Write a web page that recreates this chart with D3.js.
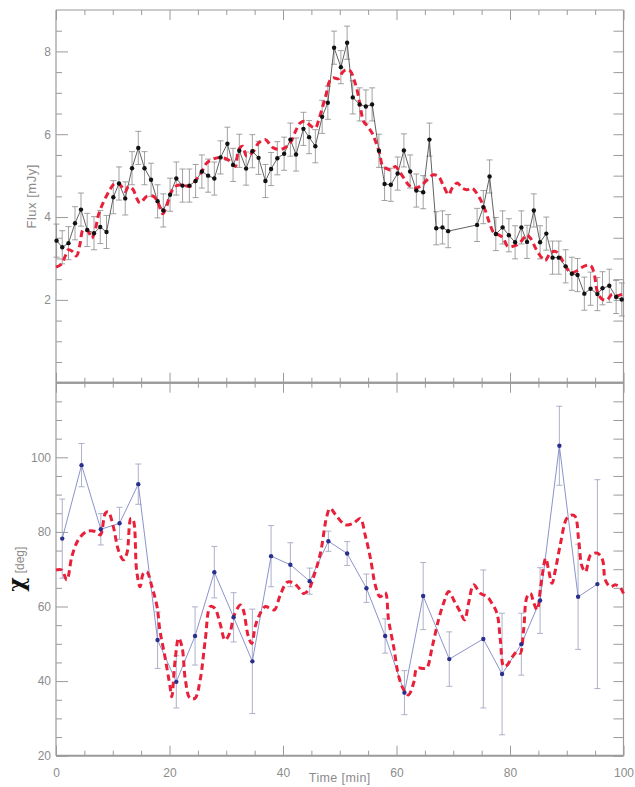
<!DOCTYPE html>
<html>
<head>
<meta charset="utf-8">
<script src="https://cdn.jsdelivr.net/npm/d3@7"></script>
<style>
  html, body { margin: 0; padding: 0; background: #fff; }
  svg { display: block; font-family: "Liberation Sans", "DejaVu Sans", sans-serif; }
</style>
</head>
<body>
<svg id="chart" width="635" height="787"></svg>
<script>
// ---- Flux light curve (upper panel) ----
const fluxTime = [0.1, 1.1, 2.2, 3.35, 4.4, 5.5, 6.7, 7.8, 8.9, 10.1,
  11.1, 12.2, 13.4, 14.5, 15.6, 16.75, 17.9, 18.9, 20.1, 21.2,
  22.3, 23.5, 24.6, 25.7, 26.8, 27.9, 29.0, 30.2, 31.2, 32.3,
  33.5, 34.6, 35.7, 36.9, 37.9, 39.0, 40.2, 41.3, 42.3, 43.6,
  44.6, 45.7, 46.9, 47.9, 49.0, 50.2, 51.3, 52.3, 53.5, 54.6,
  55.7, 56.9, 57.9, 59.0, 60.2, 61.3, 62.4, 63.5, 64.7, 65.8,
  67.0, 68.1, 69.1, 74.2, 75.3, 76.4, 77.5, 78.7, 79.8, 80.9,
  82.0, 83.0, 84.2, 85.3, 86.4, 87.5, 88.6, 89.8, 90.9, 91.9,
  93.1, 94.2, 95.4, 96.3, 97.5, 98.7, 99.7];
const fluxValue = [3.43, 3.27, 3.37, 3.85, 4.18, 3.69, 3.61, 3.76, 3.64, 4.48,
  4.81, 4.45, 5.18, 5.67, 5.18, 4.90, 4.38, 4.16, 4.54, 4.93,
  4.76, 4.76, 4.87, 5.10, 5.00, 4.93, 5.44, 5.77, 5.26, 5.60,
  5.17, 5.59, 5.43, 4.87, 5.16, 5.42, 5.53, 5.87, 5.51, 6.13,
  5.93, 5.71, 6.42, 6.76, 8.09, 7.62, 8.21, 6.89, 6.72, 6.67,
  6.72, 5.60, 4.80, 4.78, 5.05, 5.61, 5.10, 4.64, 4.60, 5.87,
  3.73, 3.75, 3.66, 3.81, 4.24, 4.98, 3.59, 3.75, 3.56, 3.39,
  3.75, 3.40, 4.16, 3.39, 3.60, 3.02, 3.02, 2.81, 2.63, 2.60,
  2.15, 2.27, 2.14, 2.28, 2.34, 2.07, 2.01];
const fluxError = [0.4, 0.4, 0.4, 0.4, 0.4, 0.4, 0.4, 0.4, 0.4, 0.4,
  0.4, 0.4, 0.4, 0.4, 0.4, 0.4, 0.4, 0.4, 0.4, 0.4,
  0.4, 0.4, 0.4, 0.4, 0.4, 0.4, 0.4, 0.4, 0.4, 0.4,
  0.4, 0.4, 0.4, 0.4, 0.4, 0.4, 0.4, 0.4, 0.4, 0.4,
  0.4, 0.4, 0.4, 0.4, 0.4, 0.4, 0.4, 0.4, 0.4, 0.4,
  0.4, 0.4, 0.4, 0.4, 0.4, 0.4, 0.4, 0.4, 0.4, 0.4,
  0.4, 0.4, 0.4, 0.4, 0.4, 0.4, 0.4, 0.4, 0.4, 0.4,
  0.4, 0.4, 0.4, 0.4, 0.4, 0.4, 0.4, 0.4, 0.4, 0.4,
  0.4, 0.4, 0.4, 0.4, 0.4, 0.4, 0.4];

// model flux curve
const modelFluxTime = [0, 1, 1.6, 2.2, 2.9, 3.6, 4.2, 4.8, 5.7, 6.3,
  6.9, 7.5, 8.3, 9.5, 10.4, 11.3, 12.2, 12.8, 13.6, 14.2,
  14.8, 16, 17.2, 18, 18.8, 19.5, 20.1, 21, 22.2, 23.6,
  24.8, 25.7, 26.6, 27.7, 28.9, 30.1, 31, 31.6, 32.2, 32.9,
  33.6, 34.8, 35.7, 36.9, 37.7, 38.3, 39.5, 40.4, 41.3, 42.2,
  43, 43.9, 44.8, 45.7, 46.3, 47, 47.6, 48.2, 48.8, 49.8,
  50.4, 51.1, 51.9, 52.5, 53.1, 53.7, 54.2, 54.9, 55.7, 56.3,
  57, 57.6, 58.3, 59, 59.8, 60.5, 61.3, 62.1, 62.9, 64.2,
  65.4, 66.5, 67.4, 68.2, 69.2, 69.8, 70.7, 71.6, 72.4, 73.3,
  73.9, 74.8, 75.7, 76.4, 77.2, 78, 78.8, 79.6, 80.4, 81.3,
  82.2, 82.9, 83.6, 84.5, 85.4, 86.2, 87.1, 88, 88.9, 89.8,
  90.7, 91.8, 93, 94.2, 94.8, 95.4, 96.2, 97.1, 98, 98.9, 100];
const modelFluxValue = [2.79, 2.87, 3.05, 3.21, 3.17, 3.06, 3.33, 3.69, 3.65, 3.49,
  3.69, 4.06, 4.34, 4.66, 4.82, 4.78, 4.62, 4.74, 4.66, 4.46,
  4.34, 4.50, 4.50, 4.34, 4.08, 4.26, 4.54, 4.74, 4.78, 4.74,
  4.92, 5.10, 5.31, 5.40, 5.44, 5.40, 5.31, 5.22, 5.63, 5.71,
  5.47, 5.59, 5.79, 5.87, 5.75, 5.67, 5.63, 5.68, 5.79, 6.07,
  6.27, 6.31, 6.21, 6.15, 6.35, 6.67, 6.96, 7.28, 7.36, 7.34,
  7.48, 7.56, 7.52, 7.32, 7.04, 6.60, 6.31, 6.19, 6.03, 5.83,
  5.55, 5.22, 5.17, 5.14, 5.22, 5.10, 4.94, 4.78, 4.70, 4.74,
  4.90, 5.02, 4.98, 4.78, 4.54, 4.70, 4.82, 4.70, 4.66, 4.70,
  4.62, 4.42, 4.14, 3.85, 3.61, 3.57, 3.49, 3.29, 3.29, 3.33,
  3.45, 3.57, 3.49, 3.25, 3.05, 2.95, 3.13, 3.17, 3.03, 2.81,
  2.66, 2.70, 2.81, 2.83, 2.65, 2.20, 2.02, 2.00, 2.14, 2.10, 2.16];

// ---- Polarisation angle (lower panel) ----
const chiTime = [1.1, 4.5, 7.9, 11.2, 14.5, 17.9, 21.2, 24.5, 27.9, 31.3,
  34.6, 37.9, 41.3, 44.7, 48.0, 51.3, 54.7, 58.0, 61.4, 64.7,
  69.3, 75.3, 78.6, 82.0, 85.3, 88.7, 92.0, 95.4];
const chiValue = [78.2, 97.9, 80.7, 82.3, 92.8, 51.0, 39.8, 52.1, 69.2, 57.1,
  45.3, 73.5, 71.2, 66.8, 77.5, 74.2, 64.9, 52.1, 36.9, 62.8,
  45.9, 51.3, 41.9, 49.9, 61.6, 103.1, 62.6, 66.0];
const chiError = [10.6, 5.8, 4.2, 4.3, 5.4, 7.6, 7.0, 7.8, 6.9, 6.6,
  14.0, 8.2, 5.9, 3.5, 2.7, 3.2, 3.8, 4.6, 5.9, 9.0,
  7.3, 18.5, 16.3, 8.3, 8.8, 10.6, 14.1, 28.0];

// model angle curve
const modelChiTime = [0, 1, 1.9, 2.8, 3.9, 5.4, 6.9, 7.8, 8.7, 9.2,
  10.1, 11, 11.9, 12.5, 13.2, 13.6, 14.2, 14.8, 15.4, 16,
  16.9, 17.8, 18.3, 19.2, 20.1, 20.4, 21, 21.6, 22.2, 22.8,
  23.6, 24.5, 25.4, 26.3, 27.2, 28, 28.9, 29.8, 30.7, 31.3,
  32.5, 33, 33.9, 34.5, 35.1, 36, 36.9, 37.7, 38.5, 39.5,
  40.7, 41.6, 42.6, 43.6, 44.5, 45.4, 46.6, 47.7, 48.3, 49.5,
  51, 52.4, 53.6, 54.5, 55.4, 56.3, 57.1, 58, 58.6, 59.5,
  60.4, 61.3, 62.1, 63, 63.6, 64.7, 65.3, 66.3, 67.4, 68.3,
  69.2, 70.1, 71.2, 72, 72.7, 73.6, 74.8, 76, 76.8, 77.7,
  78.3, 78.9, 79.5, 80.4, 81.3, 81.8, 82.4, 83, 83.6, 84.2,
  84.8, 85.4, 86.3, 86.8, 87.4, 88, 88.9, 90, 90.9, 91.5,
  92.1, 92.7, 93.3, 94.2, 95.4, 96.3, 96.8, 97.7, 98.6, 99.5, 100];
const modelChiValue = [69.8, 69.8, 67.1, 73.4, 77.8, 80.1, 80.1, 79.2, 85.0, 85.4,
  81.4, 75.1, 72.5, 74.3, 83.6, 83.2, 69.8, 65.3, 68.9, 69.3,
  65.3, 60.0, 53.7, 46.5, 38.5, 35.8, 45.7, 51.5, 49.2, 40.3,
  35.4, 35.4, 40.3, 51.0, 60.0, 59.5, 55.5, 51.0, 53.2, 57.3,
  60.4, 59.1, 51.9, 50.1, 54.6, 58.2, 60.0, 59.5, 59.1, 63.0,
  66.5, 66.5, 65.3, 63.5, 64.4, 68.0, 74.3, 84.1, 86.3, 84.1,
  81.9, 82.3, 83.6, 79.0, 73.0, 65.5, 62.6, 63.7, 56.4, 49.2,
  41.2, 37.6, 36.3, 39.4, 43.4, 43.4, 43.4, 49.2, 56.4, 60.9,
  64.0, 61.7, 58.6, 56.4, 60.9, 65.8, 63.5, 62.6, 60.9, 58.2,
  51.0, 43.9, 44.3, 46.5, 47.9, 47.5, 53.7, 62.6, 63.5, 60.9,
  59.1, 65.3, 72.9, 69.8, 66.2, 69.8, 76.9, 83.6, 84.5, 84.1,
  77.8, 70.7, 69.3, 73.8, 74.3, 72.5, 67.1, 65.3, 65.8, 64.9, 63.5];

// axis ticks
const timeMajor = [0, 20, 40, 60, 80, 100];
const timeMinor = [5, 10, 15, 25, 30, 35, 45, 50, 55, 65, 70, 75, 85, 90, 95];
const fluxMajor = [2, 4, 6, 8];
const fluxMinor = [0.5, 1, 1.5, 2.5, 3, 3.5, 4.5, 5, 5.5, 6.5, 7, 7.5, 8.5];
const chiMajor = [20, 40, 60, 80, 100];
const chiMinor = [25, 30, 35, 45, 50, 55, 65, 70, 75, 85, 90, 95, 105, 110, 115];

// ---- layout ----
const L = 56, R = 623.5, T = 10, MID = 382.7, B = 755.7;
const axisGrey = "#9a9a9a";
const labelGrey = "#8c8c8c";
const redModel = "#e8203a";

const svg = d3.select("#chart");
const x = d3.scaleLinear().domain([0, 100]).range([L, R]);
const yFlux = d3.scaleLinear().domain([0, 9]).range([MID, T]);
const yChi = d3.scaleLinear().domain([20, 120]).range([B, MID]);

function styleAxis(g) {
  g.select(".domain").remove();
  g.selectAll(".tick line").attr("stroke", axisGrey).attr("stroke-width", 1);
  g.selectAll(".tick text").attr("fill", labelGrey).attr("font-size", 12);
}

function drawFrame(yScale, y0, y1, yMajor, yMinor, showX) {
  const g = svg.append("g");
  // left axis
  g.append("g").attr("transform", `translate(${L},0)`)
    .call(d3.axisLeft(yScale).tickValues(yMajor).tickSize(-12).tickPadding(5).tickFormat(d3.format("d")))
    .call(styleAxis);
  g.append("g").attr("transform", `translate(${L},0)`)
    .call(d3.axisLeft(yScale).tickValues(yMinor).tickSize(-6).tickFormat(""))
    .call(styleAxis);
  // right axis
  g.append("g").attr("transform", `translate(${R},0)`)
    .call(d3.axisRight(yScale).tickValues(yMajor.concat(yMinor)).tickSize(-10).tickFormat(""))
    .call(styleAxis);
  // upper edge
  g.append("g").attr("transform", `translate(0,${y0})`)
    .call(d3.axisTop(x).tickValues(timeMajor).tickSize(-10).tickFormat(""))
    .call(styleAxis);
  g.append("g").attr("transform", `translate(0,${y0})`)
    .call(d3.axisTop(x).tickValues(timeMinor).tickSize(-5).tickFormat(""))
    .call(styleAxis);
  // lower edge
  g.append("g").attr("transform", `translate(0,${y1})`)
    .call(d3.axisBottom(x).tickValues(timeMajor).tickSize(-10).tickPadding(13)
      .tickFormat(showX ? d3.format("d") : ""))
    .call(styleAxis);
  g.append("g").attr("transform", `translate(0,${y1})`)
    .call(d3.axisBottom(x).tickValues(timeMinor).tickSize(-5).tickFormat(""))
    .call(styleAxis);
  // border lines
  g.append("line").attr("x1", L).attr("x2", L).attr("y1", y0).attr("y2", y1)
    .attr("stroke", axisGrey).attr("stroke-width", 1.2);
  g.append("line").attr("x1", R).attr("x2", R).attr("y1", y0).attr("y2", y1)
    .attr("stroke", axisGrey).attr("stroke-width", 1.2);
  g.append("line").attr("x1", L).attr("x2", R).attr("y1", y0).attr("y2", y0)
    .attr("stroke", axisGrey).attr("stroke-width", y0 === T ? 1.2 : 2);
  g.append("line").attr("x1", L).attr("x2", R).attr("y1", y1).attr("y2", y1)
    .attr("stroke", axisGrey).attr("stroke-width", 2);
}

drawFrame(yFlux, T, MID, fluxMajor, fluxMinor, false);
drawFrame(yChi, MID, B, chiMajor, chiMinor, true);

const capW = 3;

// ---- upper panel: flux ----
const fluxData = fluxTime.map((t, i) => ({ t, v: fluxValue[i], e: fluxError[i] }));
const upperG = svg.append("g");
const fluxBars = upperG.append("g").attr("stroke", "#8a8a8a").attr("stroke-width", 0.8);
fluxData.forEach(d => {
  const xx = x(d.t), ya = yFlux(d.v - d.e), yb = yFlux(d.v + d.e);
  fluxBars.append("line").attr("x1", xx).attr("x2", xx).attr("y1", ya).attr("y2", yb);
  fluxBars.append("line").attr("x1", xx - capW).attr("x2", xx + capW).attr("y1", ya).attr("y2", ya);
  fluxBars.append("line").attr("x1", xx - capW).attr("x2", xx + capW).attr("y1", yb).attr("y2", yb);
});
upperG.append("path").datum(fluxData)
  .attr("fill", "none").attr("stroke", "#3a3a3a").attr("stroke-width", 0.8)
  .attr("d", d3.line().x(d => x(d.t)).y(d => yFlux(d.v)));
upperG.append("path").datum(modelFluxTime.map((t, i) => ({ t, v: modelFluxValue[i] })))
  .attr("fill", "none").attr("stroke", redModel).attr("stroke-width", 3)
  .attr("stroke-dasharray", "6.5,4")
  .attr("d", d3.line().curve(d3.curveCatmullRom).x(d => x(d.t)).y(d => yFlux(d.v)));
upperG.selectAll("circle").data(fluxData).join("circle")
  .attr("cx", d => x(d.t)).attr("cy", d => yFlux(d.v)).attr("r", 2.2).attr("fill", "#111");

// ---- lower panel: polarisation angle ----
const chiData = chiTime.map((t, i) => ({ t, v: chiValue[i], e: chiError[i] }));
const lowerG = svg.append("g");
const chiBars = lowerG.append("g").attr("stroke", "#a4a8c4").attr("stroke-width", 0.9);
chiData.forEach(d => {
  const xx = x(d.t), ya = yChi(d.v - d.e), yb = yChi(d.v + d.e);
  chiBars.append("line").attr("x1", xx).attr("x2", xx).attr("y1", ya).attr("y2", yb);
  chiBars.append("line").attr("x1", xx - capW).attr("x2", xx + capW).attr("y1", ya).attr("y2", ya);
  chiBars.append("line").attr("x1", xx - capW).attr("x2", xx + capW).attr("y1", yb).attr("y2", yb);
});
lowerG.append("path").datum(chiData)
  .attr("fill", "none").attr("stroke", "#7f86c6").attr("stroke-width", 0.9)
  .attr("d", d3.line().x(d => x(d.t)).y(d => yChi(d.v)));
lowerG.append("path").datum(modelChiTime.map((t, i) => ({ t, v: modelChiValue[i] })))
  .attr("fill", "none").attr("stroke", redModel).attr("stroke-width", 3)
  .attr("stroke-dasharray", "6.5,4")
  .attr("d", d3.line().curve(d3.curveCatmullRom).x(d => x(d.t)).y(d => yChi(d.v)));
lowerG.selectAll("circle").data(chiData).join("circle")
  .attr("cx", d => x(d.t)).attr("cy", d => yChi(d.v)).attr("r", 2.2).attr("fill", "#2b2f8c");

// ---- axis titles ----
svg.append("text")
  .attr("transform", `translate(36,${(T + MID) / 2}) rotate(-90)`)
  .attr("text-anchor", "middle").attr("fill", labelGrey).attr("font-size", 13)
  .attr("letter-spacing", 0.5)
  .text("Flux [mJy]");

const chiLabel = svg.append("text")
  .attr("transform", `translate(24,${(MID + B) / 2}) rotate(-90)`)
  .attr("text-anchor", "middle");
chiLabel.append("tspan").attr("font-size", 22).attr("font-weight", "bold")
  .attr("fill", "#111").attr("font-family", "DejaVu Serif, serif").text("χ");
chiLabel.append("tspan").attr("font-size", 12).attr("fill", labelGrey).attr("dx", 4).text("[deg]");

svg.append("text")
  .attr("x", (L + R) / 2).attr("y", 782)
  .attr("text-anchor", "middle").attr("fill", labelGrey).attr("font-size", 12.5)
  .attr("letter-spacing", 0.4)
  .text("Time [min]");
</script>
</body>
</html>
